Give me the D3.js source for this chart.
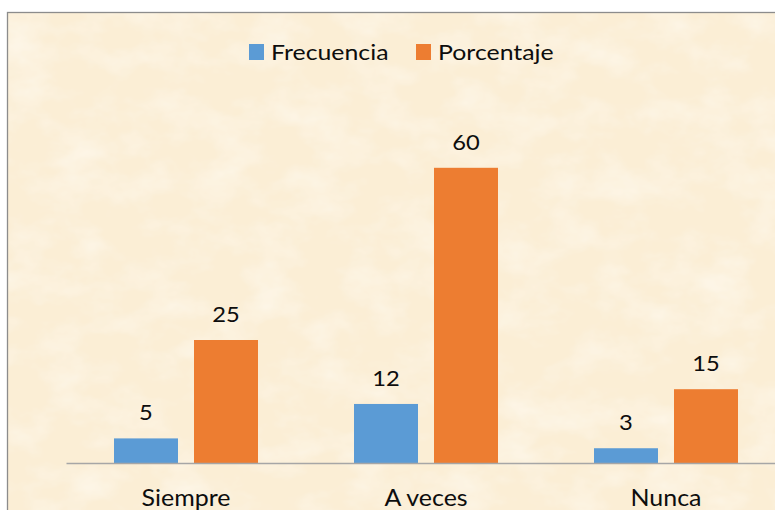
<!DOCTYPE html>
<html>
<head>
<meta charset="utf-8">
<script src="https://cdn.jsdelivr.net/npm/d3@7"></script>
<style>
  body { margin: 0; background: #fff; }
  svg { display: block; }
</style>
</head>
<body>
<svg id="chart" width="775" height="510"></svg>
<script>
const categories = ['Siempre', 'A veces', 'Nunca']
const seriesNames = ['Frecuencia', 'Porcentaje']
const frecuencia = [5, 12, 3]
const porcentaje = [25, 60, 15]
const colors = ['#5B9BD5', '#ED7D31']

const width = 775
const height = 510
const font = 'Lato, "Open Sans", sans-serif'

const svg = d3.select('#chart')
const defs = svg.append('defs')

// parchment look, kept subtle
const filter = defs.append('filter').attr('id', 'paper')
  .attr('x', 0).attr('y', 0).attr('width', '100%').attr('height', '100%')
filter.append('feTurbulence')
  .attr('type', 'fractalNoise')
  .attr('baseFrequency', '0.02 0.03')
  .attr('numOctaves', 4)
  .attr('seed', 11)
  .attr('result', 'noise')
filter.append('feColorMatrix')
  .attr('in', 'noise')
  .attr('type', 'matrix')
  .attr('values', '0 0 0 0 1  0 0 0 0 0.975  0 0 0 0 0.92  0 0 0 -1.0 0.6')
  .attr('result', 'spots')
filter.append('feComposite').attr('in', 'spots').attr('in2', 'SourceGraphic').attr('operator', 'atop')

svg.append('rect')
  .attr('x', 7).attr('y', 12)
  .attr('width', width).attr('height', height)
  .attr('fill', '#FBEED5')
svg.append('rect')
  .attr('x', 7).attr('y', 12)
  .attr('width', width).attr('height', height)
  .attr('fill', '#FBEED5')
  .attr('filter', 'url(#paper)')
svg.append('rect')
  .attr('x', 7.5).attr('y', 12.5)
  .attr('width', width).attr('height', height)
  .attr('fill', 'none')
  .attr('stroke', '#8c8c8c')
  .attr('stroke-width', 1.3)

const x0 = d3.scaleBand()
  .domain(categories)
  .range([66, 786])

const x1 = d3.scaleBand()
  .domain(seriesNames)
  .range([48, 192])
  .paddingInner(0.2)

const y = d3.scaleLinear()
  .domain([0, 70])
  .range([463, 118.6])

const rows = categories.map((c, i) => ({
  cat: c,
  values: [
    { key: seriesNames[0], v: frecuencia[i], color: colors[0] },
    { key: seriesNames[1], v: porcentaje[i], color: colors[1] }
  ]
}))

const groups = svg.append('g').selectAll('g')
  .data(rows)
  .join('g')
  .attr('transform', d => `translate(${x0(d.cat)},0)`)

groups.selectAll('rect')
  .data(d => d.values)
  .join('rect')
  .attr('x', d => x1(d.key))
  .attr('y', d => y(d.v))
  .attr('width', x1.bandwidth())
  .attr('height', d => y(0) - y(d.v))
  .attr('fill', d => d.color)

groups.selectAll('text')
  .data(d => d.values)
  .join('text')
  .attr('transform', d => `translate(${x1(d.key) + x1.bandwidth() / 2},${y(d.v) - 18}) scale(1.13,1)`)
  .attr('text-anchor', 'middle')
  .style('font-family', font)
  .style('font-size', '21px')
  .style('fill', '#0d0d0d')
  .text(d => d.v)

// category axis
const xAxis = d3.axisBottom(x0).tickSize(0).tickSizeOuter(0).tickPadding(0)
const axisG = svg.append('g')
  .attr('transform', `translate(0,${y(0)})`)
  .call(xAxis)
axisG.select('.domain').attr('stroke', '#A6A6A6').attr('stroke-width', 1.5)
axisG.selectAll('.tick text')
  .attr('dy', 0)
  .attr('y', 0)
  .attr('transform', 'translate(0,43) scale(1.04,1)')
  .style('font-family', font)
  .style('font-size', '24px')
  .style('fill', '#0d0d0d')

// legend
const legendX = [249, 416]
const legend = svg.append('g')
  .selectAll('g')
  .data(seriesNames)
  .join('g')
  .attr('transform', (d, i) => `translate(${legendX[i]},44)`)
legend.append('rect')
  .attr('width', 15).attr('height', 16)
  .attr('fill', (d, i) => colors[i])
legend.append('text')
  .attr('transform', 'translate(22,16) scale(1.13,1)')
  .style('font-family', font)
  .style('font-size', '22px')
  .style('fill', '#0d0d0d')
  .text(d => d)
</script>
</body>
</html>
